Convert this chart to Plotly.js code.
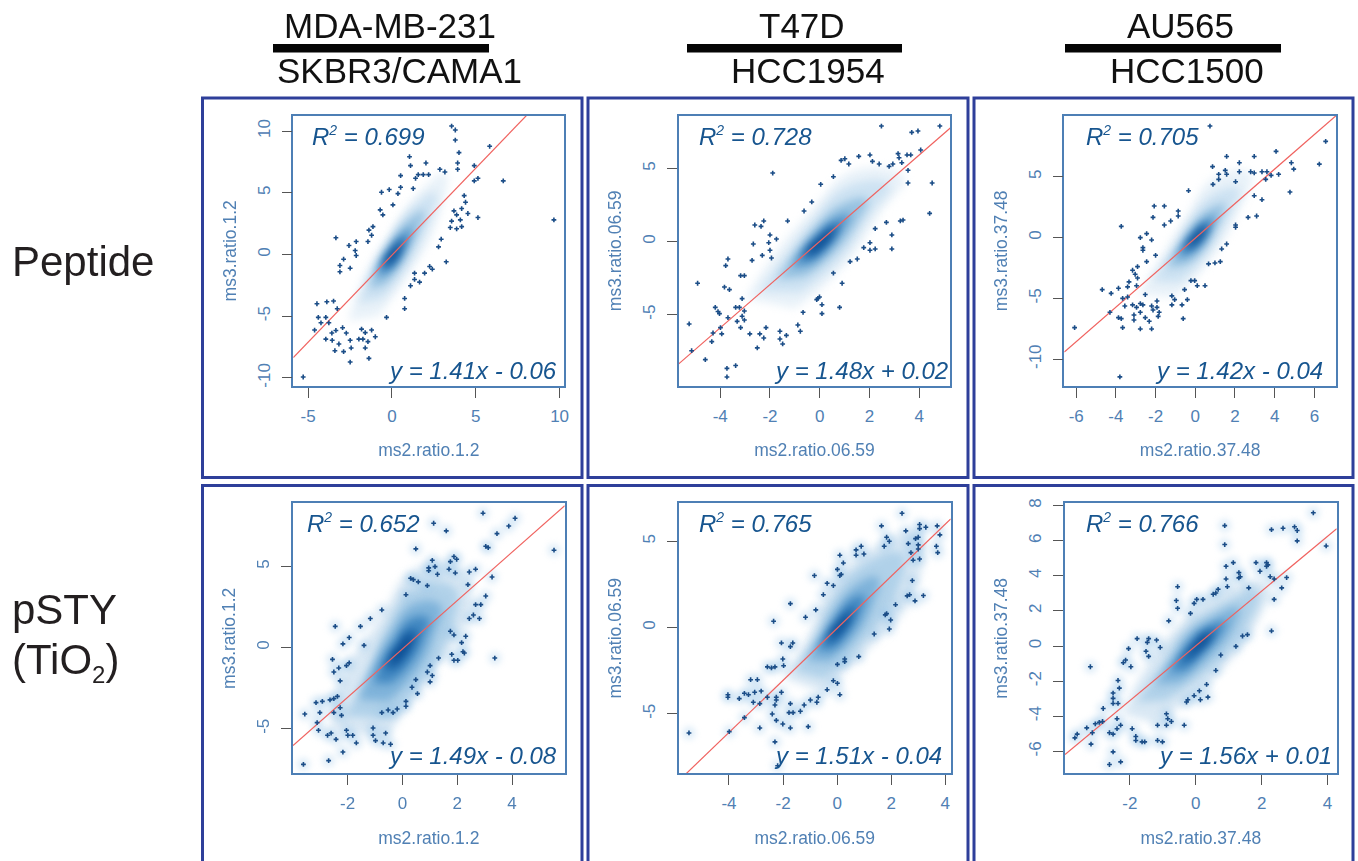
<!DOCTYPE html>
<html>
<head>
<meta charset="utf-8">
<script src="https://cdn.plot.ly/plotly-3.0.1.min.js"></script>
<style>html,body{margin:0;padding:0;background:#fff;overflow:hidden}#chart{width:1358px;height:861px}</style>
</head>
<body>
<div id="chart"></div>
<script>
// ---------- labels ----------
const columnTop = ["MDA-MB-231", "T47D", "AU565"];
const columnBottom = ["SKBR3/CAMA1", "HCC1954", "HCC1500"];
const xTitles = ["ms2.ratio.1.2", "ms2.ratio.06.59", "ms2.ratio.37.48", "ms2.ratio.1.2", "ms2.ratio.06.59", "ms2.ratio.37.48"];
const yTitles = ["ms3.ratio.1.2", "ms3.ratio.06.59", "ms3.ratio.37.48", "ms3.ratio.1.2", "ms3.ratio.06.59", "ms3.ratio.37.48"];
const r2Values = ["0.699", "0.728", "0.705", "0.652", "0.765", "0.766"];
const slopes = [1.41, 1.48, 1.42, 1.49, 1.51, 1.56];
const intercepts = [-0.06, 0.02, -0.04, -0.08, -0.04, 0.01];

// ---------- axes ----------
const xRanges = [[-5.88, 10.28], [-5.67, 5.25], [-6.6, 7.09], [-3.99, 5.92], [-5.86, 4.2], [-3.97, 4.28]];
const yRanges = [[-10.65, 11.24], [-9.89, 8.63], [-12.2, 10.03], [-7.74, 8.89], [-8.45, 7.21], [-7.25, 8.13]];
const xTicks = [[-5, 0, 5, 10], [-4, -2, 0, 2, 4], [-6, -4, -2, 0, 2, 4, 6], [-2, 0, 2, 4], [-4, -2, 0, 2, 4], [-2, 0, 2, 4]];
const yTicks = [[-10, -5, 0, 5, 10], [-5, 0, 5], [-10, -5, 0, 5], [-5, 0, 5], [-5, 0, 5], [-6, -4, -2, 0, 2, 4, 6, 8]];

// ---------- outlying points ----------
const p1x = [-5.29,-4.61,-4.47,-4.39,-4.23,-3.94,-3.94,-3.88,-3.48,-3.26,-3.76,-3.58,-3.34,-3.56,-3.16,-3.40,-2.88,-2.94,-2.72,-2.49,-2.43,-2.49,-1.81,-1.59,-1.21,-0.99,-1.97,-1.73,-1.43,-1.59,-1.37,-0.32,0.76,0.76,1.11,1.35,1.35,1.65,1.95,2.25,2.41,2.78,2.94,3.24,3.48,3.56,3.70,3.86,3.86,4.08,4.16,4.16,4.31,4.39,4.53,5.13,9.66,6.64,4.91,5.13,4.91,5.83,3.92,3.92,4.00,3.78,3.78,3.56,3.16,2.86,2.03,2.19,1.87,1.57,1.41,1.11,1.05,1.27,0.52,0.52,0.36,-0.16,-0.62,0.06,-0.70,-0.54,-1.13,-1.37,-1.21,-1.43,-2.13,-2.56,-2.19,-2.13,-2.88,-3.10,-3.10,-2.49,-3.34];
const p1y = [-9.92,-6.12,-3.99,-5.09,-5.53,-5.09,-6.85,-3.83,-3.77,-4.39,-5.53,-6.36,-6.15,-6.95,-7.25,-7.79,-7.87,-5.93,-6.36,-6.95,-7.57,-8.71,-6.04,-6.33,-6.12,-6.66,-6.85,-6.85,-7.06,-7.57,-8.41,-5.09,-3.56,-4.39,-2.53,-1.51,-2.02,-2.24,-1.51,-0.97,-1.19,0.62,1.24,-0.59,2.18,2.70,3.53,3.21,2.08,2.80,2.26,3.72,4.77,4.23,3.32,2.99,2.80,5.96,5.96,6.17,7.20,8.76,6.90,7.41,8.25,9.27,10.08,10.40,6.68,6.90,7.41,6.47,6.47,6.47,6.17,7.20,7.92,5.34,6.39,5.44,4.93,5.26,5.04,4.02,3.61,3.21,2.26,1.97,1.56,1.05,1.05,0.73,0.32,-0.08,-0.38,-0.89,-1.40,-1.11,1.35];

const p2x = [-5.25,-5.15,-4.91,-4.60,-4.34,-4.29,-3.94,-3.99,-4.20,-4.09,-4.03,-3.69,-3.73,-3.73,-3.38,-3.78,-3.69,-3.83,-3.63,-3.18,-3.03,-3.12,-3.38,-3.23,-3.03,-3.12,-3.32,-3.03,-3.18,-2.81,-2.41,-2.25,-2.16,-2.51,-1.60,-1.60,-1.49,-1.34,-0.88,-0.78,-0.67,-0.12,-0.01,-0.07,0.09,0.09,0.80,0.90,0.55,1.22,1.51,1.77,2.02,2.02,2.23,2.23,2.68,2.90,2.90,3.24,3.35,4.42,4.52,3.55,3.55,3.51,3.66,4.06,3.70,3.95,4.83,2.48,3.15,3.19,3.30,2.94,2.79,2.39,2.12,2.02,1.57,1.17,1.01,0.86,0.55,0.04,-0.32,-0.63,-1.29,-1.89,-2.25,-2.61,-2.36,-2.00,-1.74,-2.05,-2.67,-2.00,-2.31,-1.94,-2.72];
const p2y = [-5.64,-7.47,-2.85,-8.08,-6.85,-6.26,-6.32,-5.89,-4.50,-4.79,-4.93,-5.21,-8.68,-9.27,-8.49,-1.64,-1.19,-3.11,-3.29,-2.33,-2.33,-3.90,-4.50,-4.50,-4.75,-5.11,-5.46,-5.37,-5.89,-6.32,-6.32,-6.60,-5.89,-7.28,-6.14,-6.67,-7.01,-6.42,-5.71,-6.14,-4.84,-3.97,-3.79,-3.88,-4.32,-4.93,-4.50,-2.85,-2.15,-1.37,-1.19,-0.41,-0.07,-0.59,-0.50,0.89,1.32,0.46,-0.50,1.42,1.48,1.94,4.02,4.02,4.89,5.94,5.94,6.28,7.49,7.58,7.92,7.92,6.03,5.75,5.41,5.32,5.16,5.32,5.50,5.94,5.84,5.32,5.68,5.57,4.45,3.93,2.72,2.10,1.42,4.70,1.42,1.14,1.05,0.46,0.18,-0.07,-0.16,-0.59,-0.94,-1.12,-1.28];

const p3x = [-6.08,-3.80,0.74,6.57,6.25,4.96,4.84,4.07,2.97,1.58,2.22,0.87,1.18,1.51,1.58,1.18,0.89,2.03,2.22,2.79,2.97,3.36,3.61,3.82,4.20,3.55,4.77,2.97,3.36,3.09,2.66,2.03,2.03,1.58,1.33,1.26,0.99,0.67,0.49,0.10,-0.22,-0.03,-0.54,-0.40,-0.67,-0.61,-1.18,-1.04,-1.18,-0.34,-0.86,-0.86,-1.24,-1.56,-2.07,-2.13,-1.56,-3.73,-2.45,-2.77,-2.20,-2.64,-2.64,-2.00,-2.45,-2.91,-3.16,-3.03,-2.91,-3.34,-2.96,-3.41,-3.87,-4.69,-4.24,-3.66,-3.41,-2.52,-3.55,-4.30,-3.87,-3.73,-3.66,-3.16,-2.96,-2.77,-2.64,-3.09,-3.09,-2.77,-2.52,-2.32,-2.77,-2.20,-1.93,-2.20,-2.13,-1.93,-1.82,-1.87];
const p3y = [-7.40,-11.45,9.18,7.92,6.05,5.64,6.16,7.10,6.68,6.68,6.16,5.84,5.21,5.53,5.21,4.79,4.38,4.60,5.42,5.42,5.32,5.42,5.42,5.12,5.21,4.79,3.75,3.45,3.12,1.78,1.67,1.04,0.85,-0.52,-0.93,-1.97,-2.08,-2.16,-3.95,-3.95,-3.53,-3.53,-4.27,-5.10,-5.53,-6.66,-4.79,-5.10,-5.53,3.86,2.19,1.78,1.37,2.60,2.60,1.67,1.04,0.93,0.33,0.00,-0.19,-0.82,-1.04,-1.45,-1.97,-2.38,-2.68,-3.01,-3.32,-3.64,-3.95,-4.05,-4.16,-4.27,-4.58,-4.99,-4.88,-4.68,-5.62,-6.14,-6.58,-6.66,-7.40,-5.53,-5.73,-5.42,-5.53,-6.36,-6.77,-6.14,-6.58,-6.88,-7.51,-7.51,-5.21,-5.62,-5.95,-5.73,-6.14,-6.47];

const p4x = [-3.61,-3.56,-3.15,-2.92,-3.01,-3.11,-3.06,-2.69,-2.73,-2.60,-2.42,-2.17,-2.64,-2.50,-2.37,-2.27,-2.50,-2.22,-2.04,-1.99,-1.81,-1.68,-1.07,-1.07,-0.98,-0.70,-0.43,-0.61,-0.75,-0.52,-0.34,-0.19,0.13,0.13,0.35,0.55,0.49,0.91,1.01,1.09,1.01,1.32,1.80,1.88,2.02,2.21,2.26,2.16,2.31,1.75,1.88,3.37,2.44,2.59,2.81,2.67,2.86,3.04,3.27,2.39,2.44,2.67,5.53,4.11,3.88,3.45,3.13,3.04,2.94,1.60,1.14,0.49,1.09,1.19,0.96,0.96,1.28,0.91,1.70,1.75,1.88,1.98,1.93,0.30,0.40,0.58,0.13,-0.75,-1.17,-1.53,-2.45,-1.94,-2.17,-1.40,-2.55,-1.94,-2.04,-2.32,-2.50,-2.27];
const p4y = [-7.19,-4.09,-3.39,-3.31,-4.00,-4.62,-5.09,-6.96,-5.40,-5.26,-5.65,-6.43,-3.22,-3.14,-3.00,-3.70,-4.00,-4.17,-5.09,-5.40,-5.40,-5.87,-4.95,-5.40,-5.73,-5.87,-5.95,-5.26,-4.00,-3.84,-4.00,-3.78,-3.31,-3.61,-2.44,-2.83,-1.97,-1.50,-1.11,-1.72,-2.11,-0.64,-0.41,-0.78,-0.78,-0.25,-0.33,0.31,0.70,1.01,0.78,-0.64,1.79,2.01,1.79,2.65,2.65,3.18,4.35,3.88,4.66,4.83,6.00,7.97,7.49,7.02,6.16,6.24,8.28,7.19,7.66,6.08,5.38,4.99,4.91,4.74,4.52,3.82,4.83,5.30,5.61,5.44,4.60,4.27,4.19,4.05,3.26,2.32,1.79,1.31,1.31,0.62,0.23,0.14,-0.72,-0.94,-1.11,-1.25,-1.50,-2.05];

const p5x = [-5.48,-3.99,-3.43,-2.86,-2.30,-2.20,-1.07,-1.73,-2.01,-2.25,-2.40,-1.78,-1.63,-1.36,-1.73,-1.22,-0.99,-0.75,-0.70,-0.37,-0.14,0.01,0.10,0.01,0.28,0.28,0.80,1.37,1.93,1.98,1.78,1.83,2.16,2.59,2.68,2.88,3.19,2.78,2.81,3.05,2.73,2.63,2.54,3.05,3.05,3.28,3.70,3.80,3.67,3.72,3.00,3.00,2.90,3.00,2.40,1.64,1.83,1.93,1.74,0.89,0.70,0.70,0.99,0.10,0.23,0.01,0.15,0.10,-0.14,-0.37,-0.84,-0.51,-0.79,-1.73,-1.17,-2.35,-2.06,-1.64,-1.73,-2.01,-1.98,-2.30,-2.43,-2.58,-3.20,-2.95,-2.81,-3.05,-3.43,-3.28,-3.62,-4.04,-4.04,-3.10,-2.86,-2.58,-2.06,-2.25,-2.25,-2.30];
const p5y = [-6.11,-6.03,-5.22,-5.82,-6.63,-8.01,-5.74,-5.82,-5.59,-5.38,-5.01,-4.93,-4.93,-4.85,-4.41,-4.49,-4.20,-4.33,-4.04,-3.60,-3.08,-3.23,-3.89,-2.13,-1.82,-1.97,-1.68,-0.37,-0.08,0.44,0.74,0.81,1.33,1.84,1.91,1.55,1.86,2.73,3.91,3.98,4.35,4.87,5.61,5.98,5.74,5.82,5.90,5.38,4.72,4.35,4.80,4.56,5.16,5.24,6.63,5.90,5.24,5.01,4.72,4.72,4.51,4.20,4.27,4.20,3.75,3.38,3.09,3.02,2.44,2.57,3.02,1.91,1.03,1.39,0.60,0.37,-0.89,-0.89,-1.10,-1.82,-2.21,-2.28,-2.34,-2.28,-3.02,-3.02,-3.68,-3.75,-3.81,-3.89,-4.12,-3.89,-4.04,-4.33,-4.41,-4.04,-3.75,-4.04,-4.20,-4.49];

const p6x = [-3.67,-3.60,-3.31,-3.14,-3.18,-3.05,-2.93,-2.83,-2.81,-3.20,-2.62,-2.51,-2.51,-2.62,-2.28,-2.39,-2.28,-2.39,-2.51,-2.36,-2.51,-2.51,-2.32,-2.36,-2.20,-2.13,-1.97,-2.04,-1.78,-1.47,-1.43,-1.19,-1.08,-1.51,-1.43,-1.93,-1.82,-1.82,-1.63,-1.55,-1.16,-1.01,-1.16,-0.89,-0.89,-0.85,-0.74,-0.35,-0.28,-0.24,-0.05,0.11,0.14,0.33,0.37,0.61,0.76,1.22,1.42,1.57,2.30,2.38,2.61,2.76,2.38,2.26,1.61,0.96,0.92,0.92,1.14,1.31,1.31,1.35,1.83,1.95,2.15,2.15,2.19,0.88,0.88,2.30,2.65,3.00,3.08,3.08,3.57,3.96,0.68,0.61,0.53,0.22,0.03,-0.05,-0.16,-0.55,-0.59,-0.55,-0.82];
const p6y = [-5.23,-5.02,-4.66,-4.94,-5.59,-4.43,-4.35,-4.30,-3.56,-1.18,-4.94,-5.02,-6.03,-6.75,-6.60,-4.71,-4.51,-4.14,-3.27,-3.27,-2.98,-2.68,-2.40,-1.96,-0.95,-0.80,-1.18,-0.15,0.42,0.21,0.42,0.34,-0.08,-0.30,-0.59,-4.71,-5.15,-5.38,-5.46,-5.46,-5.38,-5.46,-4.51,-4.51,-3.86,-4.14,-4.30,-4.51,-3.19,-3.06,-2.83,-2.55,-3.06,-2.19,-2.91,-1.39,-0.51,-0.02,0.57,0.65,0.86,2.66,3.31,3.90,3.82,3.95,3.31,3.38,3.82,4.54,4.75,4.18,3.88,3.95,4.75,4.26,4.75,4.54,4.62,5.78,6.86,6.63,6.71,6.79,6.58,5.99,7.59,5.70,3.23,3.02,2.95,2.66,2.66,2.43,1.86,3.38,2.59,2.15,1.43];

// ---------- density cloud: outlines, palest to darkest ----------
const c1x = [[-2.6,-1.7,-0.2,1.6,3.2,2.6,0.8,-0.8],[-2.0,-1.2,-0.1,1.3,2.6,2.0,0.7,-0.6],[-1.4,-0.85,-0.1,0.9,1.9,1.4,0.5,-0.45],[-0.95,-0.6,-0.05,0.6,1.2,0.9,0.35,-0.3],[-0.65,-0.4,0,0.4,0.85,0.6,0.25,-0.2],[-0.4,-0.2,0.05,0.3,0.55,0.4,0.15,-0.1]];
const c1y = [[-5.4,-1.8,1.6,5.0,6.6,2.3,-2.0,-5.0],[-4.0,-1.4,1.3,3.9,5.0,2.0,-1.4,-3.6],[-2.8,-0.9,0.9,2.7,3.5,1.4,-0.9,-2.5],[-1.8,-0.6,0.55,1.65,2.2,0.9,-0.6,-1.6],[-1.2,-0.35,0.4,1.1,1.45,0.6,-0.4,-1.05],[-0.7,-0.2,0.25,0.65,0.9,0.35,-0.25,-0.6]];
const c2x = [[-3.0,-2.0,-0.4,1.4,3.4,2.5,0.8,-1.0],[-2.4,-1.4,-0.3,1.1,2.8,2.0,0.7,-0.8],[-1.7,-1,-0.2,0.8,1.9,1.5,0.5,-0.6],[-1.15,-0.65,-0.1,0.55,1.2,0.9,0.3,-0.4],[-0.8,-0.4,0,0.35,0.8,0.6,0.2,-0.25],[-0.55,-0.25,0.05,0.3,0.55,0.4,0.1,-0.2]];
const c2y = [[-3.9,-1.3,2.0,4.9,4.4,2.1,-2.0,-4.6],[-3.4,-1.0,1.4,3.8,3.9,1.8,-1.4,-3.5],[-2.6,-0.8,0.9,2.5,2.9,1.3,-0.9,-2.4],[-1.75,-0.5,0.6,1.55,1.85,0.8,-0.6,-1.6],[-1.15,-0.3,0.35,0.95,1.2,0.5,-0.35,-1.05],[-0.75,-0.2,0.25,0.6,0.75,0.3,-0.25,-0.65]];
const c3x = [[-2.9,-1.8,-0.5,1.0,2.8,2.2,0.6,-1.1],[-2.2,-1.2,-0.3,0.9,2.2,1.7,0.5,-0.8],[-1.5,-0.85,-0.2,0.65,1.5,1.1,0.4,-0.5],[-1.05,-0.55,-0.1,0.45,1.0,0.75,0.3,-0.35],[-0.7,-0.35,0,0.3,0.7,0.55,0.2,-0.2],[-0.4,-0.15,0.05,0.25,0.5,0.35,0.15,-0.1]];
const c3y = [[-4.7,-1.8,1.6,5.0,5.3,2.2,-2.2,-4.9],[-3.6,-1.2,1.3,3.6,4.0,1.8,-1.5,-3.7],[-2.5,-0.8,0.9,2.3,2.7,1.1,-1,-2.3],[-1.65,-0.5,0.55,1.4,1.8,0.7,-0.55,-1.5],[-1.1,-0.25,0.35,0.95,1.2,0.5,-0.35,-0.95],[-0.6,-0.1,0.25,0.65,0.75,0.3,-0.15,-0.5]];
const c4x = [[-2.6,-2.2,-0.8,0.4,2.0,2.5,1.0,-0.6],[-2.1,-1.3,-0.6,0.4,1.9,1.9,0.8,-0.5],[-1.6,-1.1,-0.4,0.4,1.4,1.2,0.6,-0.5],[-1.05,-0.75,-0.25,0.3,0.95,0.8,0.35,-0.4],[-0.7,-0.45,-0.1,0.15,0.55,0.45,0.15,-0.25],[-0.45,-0.25,0,0.1,0.3,0.22,0.05,-0.2]];
const c4y = [[-5.0,-1.8,1.8,4.8,5.0,2.4,-1.6,-5.6],[-4.2,-1.7,1.2,3.6,3.7,1.6,-1.8,-4.4],[-3.2,-1.2,1.0,2.7,2.6,0.9,-1.3,-3.3],[-2.2,-0.8,0.6,1.8,1.8,0.6,-0.9,-2.2],[-1.35,-0.5,0.35,1.0,1.05,0.35,-0.55,-1.35],[-0.8,-0.25,0.2,0.55,0.6,0.15,-0.3,-0.8]];
const c5x = [[-2.0,-1.2,-0.3,1.2,3.0,2.9,1.0,-0.6],[-1.6,-0.9,-0.2,1.0,2.4,2.2,0.9,-0.5],[-1.15,-0.6,-0.1,0.8,1.5,1.3,0.6,-0.3],[-0.8,-0.4,0,0.55,1.0,0.85,0.4,-0.2],[-0.5,-0.25,0.05,0.4,0.65,0.5,0.2,-0.1],[-0.25,-0.1,0.1,0.25,0.4,0.3,0.1,-0.05]];
const c5y = [[-2.9,-0.9,2.0,4.5,5.4,2.2,-1.5,-3.7],[-2.5,-0.8,1.6,3.7,4.3,2.0,-1.0,-3.0],[-1.9,-0.5,1.0,2.6,2.9,1.2,-0.7,-2.0],[-1.3,-0.35,0.65,1.7,1.85,0.8,-0.4,-1.35],[-0.85,-0.2,0.35,1.0,1.2,0.45,-0.3,-0.85],[-0.4,-0.05,0.25,0.6,0.75,0.25,-0.1,-0.4]];
const c6x = [[-2.2,-1.6,-0.5,0.7,2.2,1.9,0.6,-1.2],[-1.8,-1.1,-0.35,0.6,1.9,1.6,0.5,-0.9],[-1.25,-0.75,-0.25,0.5,1.3,1.1,0.35,-0.5],[-0.85,-0.5,-0.15,0.3,0.9,0.7,0.2,-0.3],[-0.55,-0.25,0,0.2,0.6,0.45,0.15,-0.15],[-0.25,-0.1,0.05,0.2,0.4,0.3,0.1,-0.05]];
const c6y = [[-3.9,-1.5,1.2,3.0,3.6,1.5,-1.7,-4.4],[-3.2,-1.3,0.9,2.2,3.1,1.3,-1.2,-3.1],[-2.2,-0.9,0.6,1.6,2.2,0.9,-0.8,-2.1],[-1.5,-0.6,0.35,1.05,1.4,0.6,-0.45,-1.45],[-0.95,-0.3,0.2,0.65,0.95,0.35,-0.25,-0.85],[-0.4,-0.1,0.2,0.5,0.65,0.25,-0.1,-0.35]];
const cloudColorsPeptide = ["#e9f2f9", "#cde2f2", "#97c2e1", "#5495c9", "#1e67aa", "#08468c"];
const cloudColorsPsty = ["#d9e8f4", "#b0d1e9", "#7fb3da", "#4389c2", "#1a62a6", "#08468c"];

const pointsX = [p1x, p2x, p3x, p4x, p5x, p6x];
const pointsY = [p1y, p2y, p3y, p4y, p5y, p6y];
const cloudsX = [c1x, c2x, c3x, c4x, c5x, c6x];
const cloudsY = [c1y, c2y, c3y, c4y, c5y, c6y];

// ---------- page geometry in pixels ----------
const W = 1358, H = 861;
const px = v => v / W;
const py = v => 1 - v / H;
const plotLeft = [293.3, 678.7, 1064.3, 293, 678.7, 1065];
const plotRight = [564.3, 950.3, 1336, 564.7, 950.7, 1336.7];
const plotTop = [115.7, 115.7, 115.7, 503.3, 503.3, 503.3];
const plotBottom = [386, 386, 386, 773.3, 773.3, 773.3];
const r2Left = [310, 697.5, 1084, 305, 697.5, 1084];
const eqRight = [558.5, 949.5, 1325, 558.5, 943.5, 1333.5];
const topCenter = [389.5, 801.5, 1180];
const bottomCenter = [399, 807.5, 1187];
const frameLeft = [202.5, 588, 974];
const frameRight = [582, 968, 1353];
const barLeft = [273, 687, 1065];
const barRight = [489, 902, 1281];

const navy = "#2e3f9a", axisBlue = "#4d7fb5", labelBlue = "#5080b4", textBlue = "#17558f";
const arial = "Liberation Sans, Arial, sans-serif";

const traces = [];
const layout = {
  width: W, height: H, margin: {l: 0, r: 0, t: 0, b: 0},
  paper_bgcolor: "#ffffff", plot_bgcolor: "#ffffff", showlegend: false,
  font: {family: arial}, shapes: [], annotations: []
};

for (let i = 0; i < 6; i++) {
  const n = i === 0 ? "" : String(i + 1);
  const xa = "x" + n, ya = "y" + n;
  const row2 = i >= 3;
  const palette = row2 ? cloudColorsPsty : cloudColorsPeptide;

  cloudsX[i].forEach((cx, k) => {
    traces.push({type: "scatter", mode: "lines", x: cx, y: cloudsY[i][k], xaxis: xa, yaxis: ya,
      name: "cloud", fill: "toself", fillcolor: palette[k],
      line: {width: 0, shape: "spline", smoothing: 1.3, color: palette[k]}, hoverinfo: "skip"});
  });
  if (row2) {
    traces.push({type: "scatter", mode: "markers", x: pointsX[i], y: pointsY[i], xaxis: xa, yaxis: ya,
      name: "halo", marker: {symbol: "circle", size: 13, color: "rgba(150,195,232,0.3)"}, hoverinfo: "skip"});
  }
  const xEnds = xRanges[i];
  traces.push({type: "scatter", mode: "lines", x: xEnds,
    y: xEnds.map(v => slopes[i] * v + intercepts[i]), xaxis: xa, yaxis: ya,
    name: "fit", line: {color: "#f0625f", width: 1.2}, hoverinfo: "skip"});
  traces.push({type: "scatter", mode: "markers", x: pointsX[i], y: pointsY[i], xaxis: xa, yaxis: ya,
    name: "points", marker: {symbol: "cross", size: 4, color: "#1b4d87"}});

  const common = {
    showgrid: false, zeroline: false, showline: true, mirror: true,
    linecolor: axisBlue, linewidth: 1.5, ticks: "outside", ticklen: 10, tickwidth: 1.4, tickcolor: "#555555",
    tickfont: {family: arial, size: 17, color: labelBlue}, tickmode: "array", automargin: false
  };
  layout["xaxis" + n] = Object.assign({}, common, {
    domain: [px(plotLeft[i]), px(plotRight[i])], range: xRanges[i], anchor: ya,
    tickvals: xTicks[i], ticktext: xTicks[i].map(String), ticklabelstandoff: 4,
    title: {text: xTitles[i], font: {family: arial, size: 17.5, color: labelBlue}, standoff: 19}
  });
  layout["yaxis" + n] = Object.assign({}, common, {
    domain: [py(plotBottom[i]), py(plotTop[i])], range: yRanges[i], anchor: xa,
    tickvals: yTicks[i], ticktext: yTicks[i].map(String), tickangle: -90, ticklabelstandoff: 5,
    title: {text: yTitles[i], font: {family: arial, size: 17.5, color: labelBlue}, standoff: 14}
  });

  const midR = row2 ? 522.5 : 136, midE = row2 ? 755 : 370;
  layout.annotations.push({xref: "paper", yref: "paper", x: px(r2Left[i]), y: py(midR), xanchor: "left", yanchor: "middle",
    showarrow: false, text: 'R<sup><span style="font-size:14px">2</span></sup> = ' + r2Values[i],
    font: {family: arial, size: 24, style: "italic", color: textBlue}});
  const b = intercepts[i];
  const eq = "y = " + slopes[i].toFixed(2) + "x " + (b < 0 ? "- " : "+ ") + Math.abs(b).toFixed(2);
  layout.annotations.push({xref: "paper", yref: "paper", x: px(eqRight[i]), y: py(midE), xanchor: "right", yanchor: "middle",
    showarrow: false, text: eq, font: {family: arial, size: 24, style: "italic", color: textBlue}});
}

for (let c = 0; c < 3; c++) {
  layout.shapes.push({type: "rect", xref: "paper", yref: "paper", x0: px(frameLeft[c]), x1: px(frameRight[c]),
    y0: py(477.5), y1: py(98), line: {color: navy, width: 3}, fillcolor: "rgba(0,0,0,0)", layer: "below"});
  layout.shapes.push({type: "path", xref: "paper", yref: "paper", layer: "below",
    path: "M " + px(frameLeft[c]) + " 0 L " + px(frameLeft[c]) + " " + py(485.5) + " L " + px(frameRight[c]) + " " + py(485.5) + " L " + px(frameRight[c]) + " 0",
    line: {color: navy, width: 3}});
  layout.shapes.push({type: "rect", xref: "paper", yref: "paper", x0: px(barLeft[c]), x1: px(barRight[c]),
    y0: py(52.5), y1: py(44), fillcolor: "#050505", line: {width: 0}});
  layout.annotations.push({xref: "paper", yref: "paper", x: px(topCenter[c]), y: py(25.5), xanchor: "center", yanchor: "middle",
    showarrow: false, text: columnTop[c], font: {family: arial, size: 35, color: "#111111"}});
  layout.annotations.push({xref: "paper", yref: "paper", x: px(bottomCenter[c]), y: py(70), xanchor: "center", yanchor: "middle",
    showarrow: false, text: columnBottom[c], font: {family: arial, size: 35, color: "#111111"}});
}
layout.annotations.push({xref: "paper", yref: "paper", x: px(10), y: py(262), xanchor: "left", yanchor: "middle",
  showarrow: false, text: "Peptide", font: {family: arial, size: 42, color: "#231f20"}});
layout.annotations.push({xref: "paper", yref: "paper", x: px(10), y: py(609), xanchor: "left", yanchor: "middle",
  showarrow: false, text: "pSTY", font: {family: arial, size: 42, color: "#231f20"}});
layout.annotations.push({xref: "paper", yref: "paper", x: px(10), y: py(662), xanchor: "left", yanchor: "middle",
  showarrow: false, text: '(TiO<sub><span style="font-size:24px">2</span></sub>)', font: {family: arial, size: 42, color: "#231f20"}});

Plotly.newPlot("chart", traces, layout, {displayModeBar: false, responsive: false}).then(gd => {
  gd.querySelectorAll(".scatterlayer .trace").forEach(el => {
    const t = el.__data__ && el.__data__[0] && el.__data__[0].trace;
    if (!t) return;
    if (t.name === "cloud") el.querySelectorAll(".js-fill").forEach(f => { f.style.filter = "blur(4px)"; });
    if (t.name === "halo") el.querySelectorAll(".points").forEach(f => { f.style.filter = "blur(3px)"; });
  });
});
</script>
</body>
</html>
